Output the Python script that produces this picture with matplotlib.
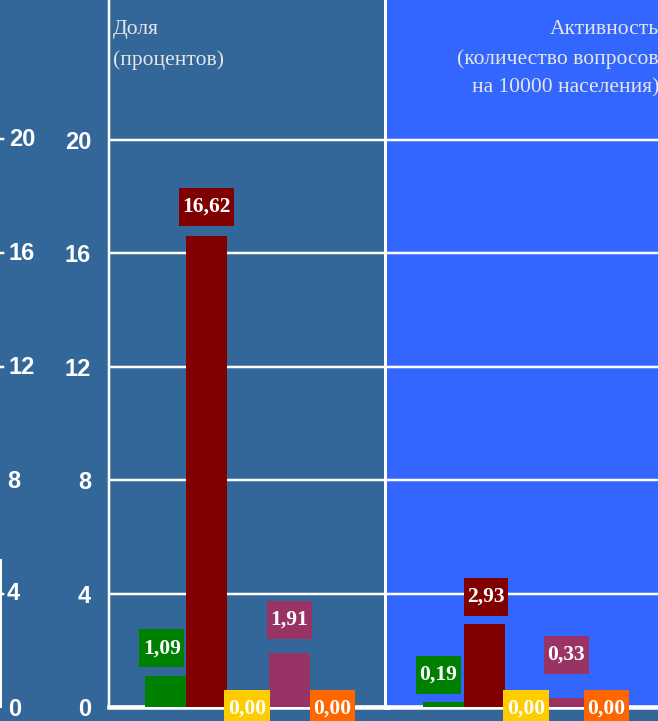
import matplotlib
matplotlib.use("Agg")
import matplotlib.pyplot as plt
from matplotlib.patches import Rectangle

# ---------------- data ----------------
categories = ["A", "B", "C", "D", "E"]
share_values = [1.09, 16.62, 0.00, 1.91, 0.00]        # Доля (процентов)
activity_values = [0.19, 2.93, 0.00, 0.33, 0.00]      # Активность
bar_colors = ["#008000", "#800000", "#FFCC00", "#993366", "#FF6600"]
yticks = [0, 4, 8, 12, 16, 20]
left_title = ["Доля", "(процентов)"]
right_title = ["Активность", "(количество вопросов", "на 10000 населения)"]

# label styling (pixel gaps above bar top, horizontal nudges)
share_gap = [9, 10, 0, 14, 0]
share_dx = [-3.5, 0, -1, 0, 1.5]
act_gap = [8, 8, 0, 24, 0]
act_dx = [-5, 1.5, 0, -1, -2.5]

# ---------------- layout ----------------
W, H, DPI = 658, 721, 100
BG = "#336699"
BG2 = "#3366FF"
fig = plt.figure(figsize=(W / DPI, H / DPI), dpi=DPI, facecolor=BG)

base_y = 707.0
ppu = 28.35          # pixels per y unit
ytop = 25.0
ax_h = ytop * ppu
def fy(y):
    return 1 - y / H

ax1 = fig.add_axes([109 / W, (H - base_y) / H, 278 / W, ax_h / H])
ax2 = fig.add_axes([387 / W, (H - base_y) / H, 278 / W, ax_h / H])

px2pt = 72 / DPI
for ax, fc in ((ax1, BG), (ax2, BG2)):
    ax.set_facecolor(fc)
    ax.set_ylim(0, ytop)
    ax.set_xlim(-1.36, 5.36)
    ax.set_axisbelow(True)
    ax.set_yticks(yticks)
    ax.yaxis.grid(True, color="white", linewidth=2.5 * px2pt)
    ax.xaxis.grid(False)
    ax.set_xticks([])
    ax.tick_params(axis="y", length=0)
    ax.spines["top"].set_visible(False)
    ax.spines["bottom"].set_color("white")
    ax.spines["bottom"].set_linewidth(4.5 * px2pt)

ax1.spines["left"].set_color("white")
ax1.spines["left"].set_linewidth(2.5 * px2pt)
ax1.spines["right"].set_color("white")
ax1.spines["right"].set_linewidth(6 * px2pt)
ax2.spines["left"].set_visible(False)
ax2.spines["right"].set_visible(False)
ax2.set_yticklabels([])
ax1.set_yticklabels([str(t) for t in yticks], color="white",
                    fontfamily="Liberation Sans", fontweight="bold", fontsize=17)
ax1.tick_params(axis="y", pad=18 * px2pt)

xpos = list(range(len(categories)))
ax1.bar(xpos, share_values, width=1.0, color=bar_colors, zorder=3)
ax2.bar(xpos, activity_values, width=1.0, color=bar_colors, zorder=3)

# ---------------- bar labels with boxes ----------------
labels = []
inv = fig.transFigure.inverted()
for ax, vals, gaps, dxs in ((ax1, share_values, share_gap, share_dx),
                            (ax2, activity_values, act_gap, act_dx)):
    for i, v in enumerate(vals):
        px, py = ax.transData.transform((xpos[i], v))
        if v > 0:
            cy = py + gaps[i] + 19
        else:
            cy = py - 2
        cx = px + dxs[i]
        fxy = inv.transform((cx, cy))
        t = fig.text(fxy[0], fxy[1], f"{v:.2f}".replace(".", ","),
                     ha="center", va="center", color="white",
                     fontfamily="Liberation Serif", fontweight="bold",
                     fontsize=15.5, zorder=11)
        labels.append((t, cx, cy, bar_colors[i]))

fig.canvas.draw()
renderer = fig.canvas.get_renderer()
for t, cx, cy, col in labels:
    bb = t.get_window_extent(renderer)
    w = bb.width + 7
    h = 38
    (x0, y0) = inv.transform((cx - w / 2, cy - h / 2))
    (x1, y1) = inv.transform((cx + w / 2, cy + h / 2))
    fig.add_artist(Rectangle((x0, y0), x1 - x0, y1 - y0, transform=fig.transFigure,
                             facecolor=col, edgecolor="none", zorder=10))

# ---------------- titles ----------------
tcol = "#E6E6E6"
tkw = dict(fontfamily="Liberation Serif", fontsize=15.5, color=tcol, va="baseline")
fig.text(113 / W, fy(34), left_title[0], ha="left", **tkw)
fig.text(113 / W, fy(65), left_title[1], ha="left", **tkw)
fig.text(659 / W, fy(34), right_title[0], ha="right", **tkw)
fig.text(659 / W, fy(64), right_title[1], ha="right", **tkw)
fig.text(659 / W, fy(92), right_title[2], ha="right", **tkw)

# ---------------- cropped neighbouring axis at the left edge ----------------
edge_y = [139, 253, 367, 482, 594, 710]
edge_x = [9, 9, 9, 7, 7, 8]
for lab, ex, ey in zip([str(t) for t in yticks[::-1]], edge_x, edge_y):
    fig.text(ex / W, fy(ey), lab, ha="left", va="center", color="white",
             fontfamily="Liberation Sans", fontweight="bold", fontsize=17)
for ey in [139, 253, 367, 594]:
    fig.add_artist(plt.Line2D([0, 3 / W], [fy(ey), fy(ey)], color="white",
                              linewidth=2.5 * px2pt, transform=fig.transFigure))
fig.add_artist(plt.Line2D([1 / W, 1 / W], [fy(560), fy(707)], color="white",
                          linewidth=2 * px2pt, transform=fig.transFigure))

fig.savefig("out.png", dpi=DPI, facecolor=BG)
